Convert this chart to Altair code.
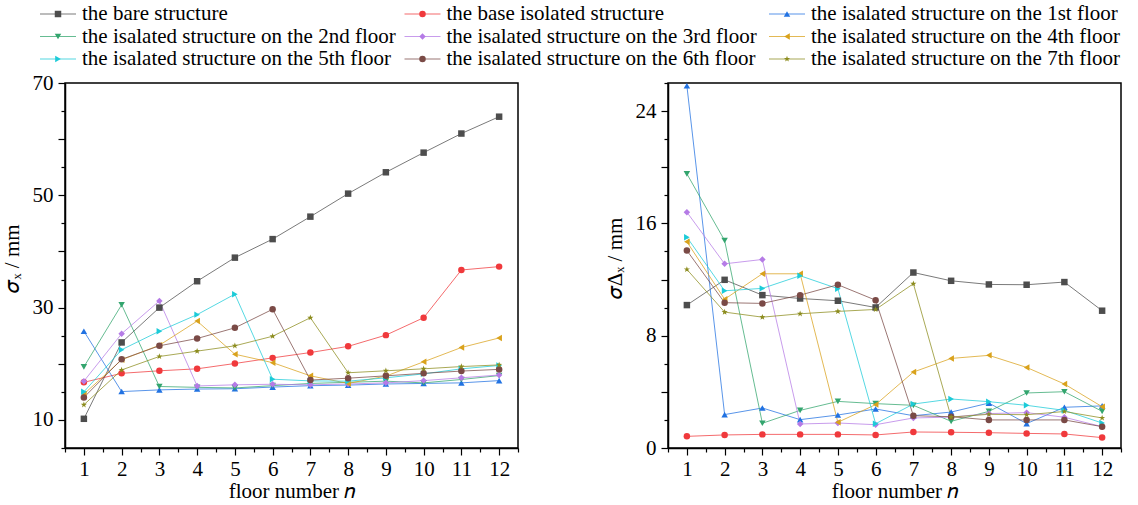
import altair as alt
import pandas as pd

floors = list(range(1, 13))

series_names = [
    "the bare structure",
    "the base isolated structure",
    "the isalated structure on the 1st floor",
    "the isalated structure on the 2nd floor",
    "the isalated structure on the 3rd floor",
    "the isalated structure on the 4th floor",
    "the isalated structure on the 5th floor",
    "the isalated structure on the 6th floor",
    "the isalated structure on the 7th floor",
]

# sigma_x (mm), left panel
sx_bare = [10.2, 23.8, 30.0, 34.7, 38.9, 42.2, 46.2, 50.3, 54.1, 57.6, 61.0, 64.0]
sx_base = [16.7, 18.3, 18.75, 19.1, 20.05, 21.05, 22.0, 23.1, 25.1, 28.2, 36.7, 37.3]
sx_f1 = [25.8, 15.05, 15.35, 15.5, 15.55, 15.85, 16.1, 16.2, 16.4, 16.5, 16.6, 17.0]
sx_f2 = [19.45, 30.5, 15.95, 15.8, 15.7, 16.1, 16.5, 16.7, 16.9, 16.6, 17.2, 17.9]
sx_f3 = [16.9, 25.35, 31.2, 16.05, 16.25, 16.35, 16.25, 16.4, 16.6, 17.0, 17.5, 18.0]
sx_f4 = [14.6, 20.7, 23.3, 27.6, 21.7, 20.2, 17.85, 16.5, 17.8, 20.35, 22.9, 24.6]
sx_f5 = [15.0, 22.5, 25.8, 28.75, 32.4, 17.25, 16.95, 16.9, 17.5, 18.2, 19.1, 19.7]
sx_f6 = [14.0, 20.8, 23.2, 24.5, 26.4, 29.7, 17.1, 17.43, 17.85, 18.3, 18.7, 19.0]
sx_f7 = [12.7, 18.9, 21.3, 22.25, 23.2, 24.9, 28.2, 18.4, 18.75, 19.1, 19.5, 19.8]

# sigma_delta_x (mm), right panel
sd_bare = [10.18, 11.98, 10.89, 10.65, 10.49, 10.01, 12.5, 11.91, 11.65, 11.63, 11.82, 9.78]
sd_base = [0.83, 0.93, 0.97, 0.97, 0.97, 0.93, 1.14, 1.12, 1.09, 1.04, 1.0, 0.74]
sd_f1 = [25.8, 2.38, 2.85, 2.02, 2.35, 2.78, 2.3, 2.56, 3.2, 1.74, 2.9, 3.0]
sd_f2 = [19.53, 14.78, 1.76, 2.68, 3.32, 3.16, 3.04, 1.9, 2.61, 3.92, 4.01, 2.61]
sd_f3 = [16.8, 13.12, 13.43, 1.71, 1.78, 1.66, 2.14, 2.2, 2.45, 2.52, 2.19, 1.52]
sd_f4 = [14.69, 10.6, 12.41, 12.41, 1.83, 3.09, 5.41, 6.38, 6.6, 5.74, 4.56, 2.94]
sd_f5 = [15.02, 11.2, 11.37, 12.27, 11.35, 1.73, 3.13, 3.49, 3.3, 3.04, 2.68, 1.78]
sd_f6 = [14.07, 10.35, 10.3, 10.89, 11.63, 10.53, 2.3, 2.23, 2.0, 2.0, 2.0, 1.52]
sd_f7 = [12.72, 9.68, 9.32, 9.56, 9.73, 9.87, 11.7, 2.2, 2.4, 2.37, 2.6, 2.14]

left_series = [sx_bare, sx_base, sx_f1, sx_f2, sx_f3, sx_f4, sx_f5, sx_f6, sx_f7]
right_series = [sd_bare, sd_base, sd_f1, sd_f2, sd_f3, sd_f4, sd_f5, sd_f6, sd_f7]

# styles
colors = ["#4D4D4D", "#F0393C", "#2172E2", "#33A56E", "#B57BE6",
          "#D9A21C", "#1CCBD8", "#7A4A46", "#8C8C1E"]
STAR = ("M0,-1L0.235,-0.324L0.951,-0.309L0.380,0.124L0.588,0.809L0,0.4"
        "L-0.588,0.809L-0.380,0.124L-0.951,-0.309L-0.235,-0.324Z")
shapes = ["square", "circle", "triangle-up", "triangle-down", "diamond",
          "triangle-left", "triangle-right", "circle", STAR]
FONT = "Times New Roman, Liberation Serif, serif"


def long_df(series_list):
    rows = []
    for name, vals in zip(series_names, series_list):
        for f, v in zip(floors, vals):
            rows.append({"series": name, "floor": f, "value": v})
    return pd.DataFrame(rows)


color_scale = alt.Scale(domain=series_names, range=colors)
shape_scale = alt.Scale(domain=series_names, range=shapes)

x_vals = [v / 2 for v in range(1, 26)]


def xaxis():
    return alt.Axis(
        values=x_vals,
        labelExpr="datum.value % 1 == 0 ? format(datum.value, 'd') : ''",
        tickSize={"condition": {"test": "datum.value % 1 == 0", "value": 7}, "value": 4},
        title="floor number 𝑛",
        titlePadding=1,
        labelPadding=3,
    )


def panel(df, ydomain, yvals, label_test, major_test, ytitle, ytitle_pad):
    base = alt.Chart(df)
    x = alt.X("floor:Q", scale=alt.Scale(domain=[0.5, 12.5], nice=False, zero=False), axis=xaxis())
    y = alt.Y(
        "value:Q",
        scale=alt.Scale(domain=ydomain, nice=False, zero=False),
        axis=alt.Axis(
            values=yvals,
            labelExpr=f"{label_test} ? format(datum.value, 'd') : ''",
            tickSize={"condition": {"test": major_test, "value": 7}, "value": 4},
            title=ytitle,
            titlePadding=ytitle_pad,
            titleY=175,
            labelPadding=5,
        ),
    )
    lines = base.mark_line(strokeWidth=1, opacity=0.75).encode(
        x=x, y=y,
        color=alt.Color("series:N", scale=color_scale, legend=None),
        detail="series:N",
    )
    pts = base.mark_point(filled=True, opacity=1, size=42).encode(
        x=x, y=y,
        color=alt.Color("series:N", scale=color_scale, legend=None),
        shape=alt.Shape("series:N", scale=shape_scale, legend=None),
    )
    return alt.layer(lines, pts).properties(width=453, height=365)


left = panel(long_df(left_series), [5, 70], list(range(5, 71, 5)),
             "datum.value % 20 == 10", "datum.value % 10 == 0", "𝜎ₓ / mm", 10)
right = panel(long_df(right_series), [0, 26], list(range(0, 27, 2)),
              "datum.value % 8 == 0", "datum.value % 4 == 0", "𝜎Δₓ / mm", 10)

# legend as its own small chart (x is relative to the left plot's origin)
leg_df = pd.DataFrame({
    "series": series_names,
    "col": [i % 3 for i in range(len(series_names))],
    "row": [i // 3 for i in range(len(series_names))],
})
lx = alt.X("col:O", scale=alt.Scale(type="point", domain=[0, 1, 2], range=[-7, 722], padding=0), axis=None)
ly = alt.Y("row:O", scale=alt.Scale(type="point", domain=[0, 1, 2], range=[14, 59], padding=0), axis=None)
lbase = alt.Chart(leg_df)
leg_line = lbase.mark_tick(orient="horizontal", size=36, thickness=1, opacity=0.75).encode(
    x=lx, y=ly,
    color=alt.Color("series:N", scale=color_scale, legend=None),
)
leg_pt = lbase.mark_point(filled=True, opacity=1, size=42).encode(
    x=lx, y=ly,
    color=alt.Color("series:N", scale=color_scale, legend=None),
    shape=alt.Shape("series:N", scale=shape_scale, legend=None),
)
leg_txt = lbase.mark_text(align="left", baseline="middle", dx=24, font=FONT, fontSize=21, color="black").encode(
    x=lx, y=ly, text="series:N",
)
legend = alt.layer(leg_line, leg_pt, leg_txt).properties(
    width=700, height=70, view=alt.ViewBackground(strokeOpacity=0)
)

chart = alt.vconcat(
    legend,
    alt.hconcat(left, right, spacing=83),
    spacing=1,
).properties(
    padding={"left": 0, "top": 0, "right": 0, "bottom": 0},
    background="white",
).configure_view(
    stroke="black", strokeWidth=1.5
).configure_axis(
    grid=False,
    domainColor="black",
    domainWidth=1.5,
    tickColor="black",
    tickWidth=1.2,
    labelFont=FONT,
    labelFontSize=21,
    labelColor="black",
    titleFont=FONT,
    titleFontSize=21,
    titleFontWeight="normal",
    titleColor="black",
)

chart.save("out.html", embed_options={"renderer": "svg", "actions": False})
